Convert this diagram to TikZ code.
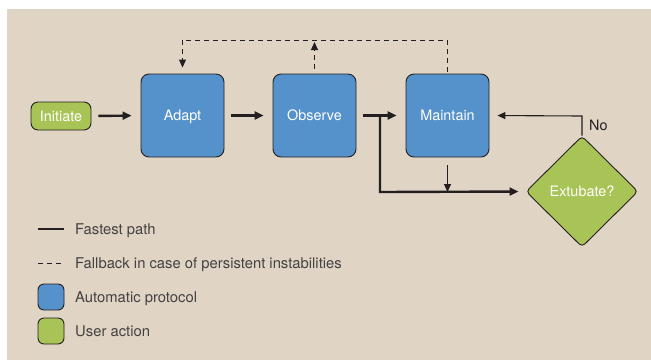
\documentclass[tikz,border=0pt]{standalone}
\usepackage{fontspec}
\setmainfont{TeX Gyre Heros}
\usetikzlibrary{shapes.geometric,arrows.meta}
\definecolor{paper}{HTML}{E0D5C5}
\definecolor{autoblue}{HTML}{5592CB}
\definecolor{usergreen}{HTML}{A9C456}
\definecolor{ink}{HTML}{231F20}
\tikzset{
  label font/.style={text=white, font=\fontsize{14.4}{16}\selectfont,
    text height=10.3pt, text depth=0pt},
  procbox/.style={draw=ink, line width=0.9pt, fill=autoblue, rounded corners=8pt,
    minimum width=83pt, minimum height=83pt, inner sep=0pt, label font},
  userbox/.style={draw=ink, line width=0.9pt, fill=usergreen, rounded corners=7pt,
    minimum width=60pt, minimum height=28pt, inner sep=0pt, label font},
  decide/.style={diamond, draw=ink, line width=0.9pt, fill=usergreen, rounded corners=4pt,
    minimum width=112pt, minimum height=111pt, inner sep=0pt, label font},
  fast/.style={draw=ink, line width=2.4pt, -{Triangle[length=9pt,width=8pt]}},
  thin/.style={draw=ink, line width=1.1pt, -{Triangle[length=8pt,width=7pt]}},
  fallback/.style={draw=ink, line width=1pt, dash pattern=on 5pt off 4pt,
    -{Triangle[length=8pt,width=7pt]}},
  legtext/.style={anchor=west, inner sep=0pt, text=ink!85,
    font=\fontsize{14.8}{16}\selectfont, text height=10.6pt, text depth=0pt},
  legbox/.style={draw=ink, line width=0.9pt, rounded corners=6pt,
    minimum width=26pt, minimum height=26pt, inner sep=0pt},
}
\begin{document}
\begin{tikzpicture}[x=1pt, y=-1pt]
  % page and paper background
  \useasboundingbox (0,0) rectangle (651,360);
  \fill[white] (0,0) rectangle (651,360);
  \fill[paper] (7,9) rectangle (651,360);

  % process nodes
  \node[userbox] (init) at (61,116) {Initiate};
  \node[procbox] (adapt) at (182.5,115.5) {Adapt};
  \node[procbox] (observe) at (314.5,115.5) {Observe};
  \node[procbox] (maintain) at (447.5,115.5) {Maintain};
  \node[decide] (extubate) at (582,191.5) {Extubate?};

  % helper points for the routed connectors
  \coordinate (split) at (380,116);
  \coordinate (low) at (380,192);
  \coordinate (belowmaint) at (447.5,192);
  \coordinate (topright) at (447.5,40);
  \coordinate (topleft) at (182.5,40);
  \coordinate (obstop) at (314.5,42);
  \coordinate (nocorner) at (582,116);

  % fastest path
  \draw[fast, shorten <=7pt, shorten >=9pt] (init.east) -- (adapt.west);
  \draw[fast, shorten <=7pt, shorten >=9pt] (adapt.east) -- (observe.west);
  \draw[fast, shorten <=7pt, shorten >=9pt] (observe.east) -- (maintain.west);
  \draw[fast, shorten >=7pt] (split) -- (low) -- (extubate.west);
  \draw[thin, shorten <=8pt] (maintain.south) -- (belowmaint);

  % answer "No" returns to Maintain
  \draw[thin, shorten >=8pt] (extubate.north) -- (nocorner) -- (maintain.east);
  \node[anchor=west, inner sep=0pt, text=ink, font=\fontsize{14.4}{16}\selectfont,
    text height=10.3pt, text depth=0pt] (nolabel) at (589,125.5) {No};

  % fallback loops
  \draw[fallback, shorten <=2pt, shorten >=6pt] (maintain.north) -- (topright) -- (topleft) -- (adapt.north);
  \draw[fallback, shorten <=5pt] (observe.north) -- (obstop);

  % legend
  \coordinate (l1a) at (38,229);
  \coordinate (l1b) at (64,229);
  \draw[ink, line width=2.4pt] (l1a) -- (l1b);
  \node[legtext] (legfast) at (75,229) {Fastest path};
  \coordinate (l2a) at (38,263);
  \coordinate (l2b) at (64,263);
  \draw[ink, line width=1pt, dash pattern=on 5pt off 4pt] (l2a) -- (l2b);
  \node[legtext] (legfall) at (75,263) {Fallback in case of persistent instabilities};
  \node[legbox, fill=autoblue] (legauto) at (51,297) {};
  \node[legtext] (legautotext) at (75,297) {Automatic protocol};
  \node[legbox, fill=usergreen] (leguser) at (51,331) {};
  \node[legtext] (legusertext) at (75,331) {User action};
\end{tikzpicture}
\end{document}
